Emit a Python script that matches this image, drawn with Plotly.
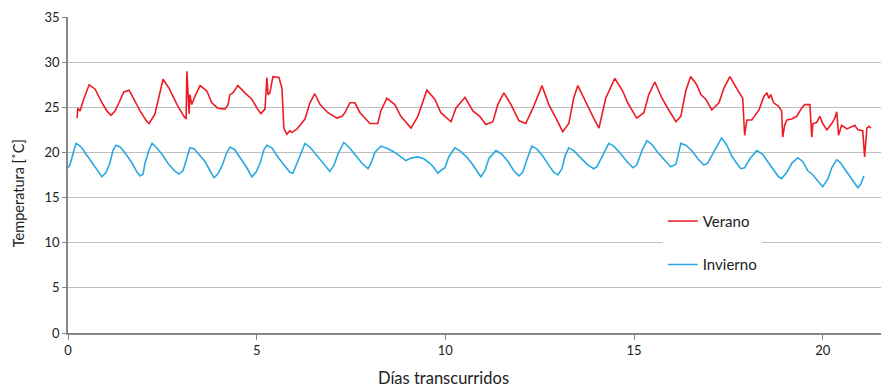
import plotly.graph_objects as go

# Días transcurridos / Temperatura [°C]
verano_dias = [0.24, 0.26, 0.32, 0.40, 0.56, 0.72, 0.90, 1.03, 1.14, 1.25, 1.35, 1.48, 1.62, 1.75, 1.91, 2.09, 2.15, 2.30, 2.41, 2.52,
               2.68, 2.89, 3.07, 3.13, 3.15, 3.21, 3.23, 3.28, 3.36, 3.50, 3.68, 3.81, 3.97, 4.16, 4.24, 4.29, 4.37, 4.50, 4.69, 4.87,
               5.01, 5.11, 5.22, 5.27, 5.30, 5.35, 5.43, 5.59, 5.67, 5.72, 5.80, 5.88, 5.93, 6.07, 6.15, 6.28, 6.41, 6.54, 6.68, 6.89,
               7.13, 7.26, 7.34, 7.47, 7.60, 7.74, 8.00, 8.21, 8.29, 8.45, 8.66, 8.82, 9.09, 9.27, 9.51, 9.72, 9.88, 10.15, 10.28, 10.52,
               10.73, 10.91, 11.07, 11.26, 11.39, 11.55, 11.74, 11.95, 12.13, 12.32, 12.56, 12.74, 12.93, 13.11, 13.27, 13.40, 13.51, 13.72, 13.93, 14.07,
               14.25, 14.49, 14.70, 14.83, 14.99, 15.07, 15.26, 15.39, 15.55, 15.74, 15.92, 16.11, 16.24, 16.37, 16.50, 16.66, 16.77, 16.90, 17.06, 17.25,
               17.38, 17.54, 17.72, 17.88, 17.93, 17.99, 18.12, 18.31, 18.44, 18.52, 18.57, 18.62, 18.70, 18.83, 18.91, 18.94, 18.99, 19.05, 19.18, 19.31,
               19.44, 19.52, 19.66, 19.71, 19.74, 19.84, 19.92, 20.00, 20.11, 20.24, 20.32, 20.37, 20.42, 20.50, 20.64, 20.77, 20.85, 20.93, 21.06, 21.11,
               21.17, 21.22, 21.28]
verano_temp = [23.8, 24.9, 24.6, 25.7, 27.5, 27.0, 25.5, 24.6, 24.1, 24.6, 25.5, 26.7, 26.9, 25.9, 24.6, 23.4, 23.2, 24.2, 26.0, 28.1,
               27.1, 25.3, 24.0, 23.7, 29.0, 24.3, 26.4, 25.3, 26.2, 27.4, 26.8, 25.5, 24.9, 24.8, 25.3, 26.4, 26.6, 27.4, 26.6, 25.9,
               24.9, 24.3, 24.8, 28.3, 26.4, 26.6, 28.4, 28.3, 27.1, 22.7, 22.0, 22.4, 22.2, 22.6, 23.0, 23.7, 25.5, 26.5, 25.3, 24.4,
               23.8, 24.0, 24.4, 25.5, 25.5, 24.4, 23.2, 23.2, 24.6, 26.0, 25.3, 24.0, 22.7, 24.0, 26.9, 25.9, 24.4, 23.4, 24.9, 26.1,
               24.6, 24.0, 23.1, 23.4, 25.3, 26.6, 25.3, 23.5, 23.2, 24.9, 27.4, 25.3, 23.8, 22.3, 23.2, 26.0, 27.4, 25.5, 23.8, 22.7,
               26.0, 28.2, 26.8, 25.5, 24.4, 23.8, 24.4, 26.4, 27.8, 26.0, 24.7, 23.4, 24.0, 26.8, 28.4, 27.5, 26.4, 25.9, 24.7, 25.5,
               27.1, 28.4, 27.1, 26.0, 21.9, 23.6, 23.6, 24.7, 26.2, 26.6, 26.0, 26.4, 25.5, 25.1, 24.6, 21.7, 23.0, 23.6, 23.7, 24.0,
               24.9, 25.3, 25.3, 21.7, 23.2, 23.3, 24.0, 23.2, 22.5, 23.2, 23.8, 24.5, 21.9, 23.0, 22.6, 22.8, 23.0, 22.5, 22.4, 19.5,
               22.7, 22.9, 22.7]

invierno_dias = [0.00, 0.05, 0.13, 0.21, 0.29, 0.37, 0.48, 0.64, 0.77, 0.90, 1.01, 1.11, 1.19, 1.27, 1.38, 1.54, 1.70, 1.83, 1.91, 1.99,
                 2.04, 2.15, 2.23, 2.33, 2.49, 2.65, 2.81, 2.94, 3.05, 3.13, 3.23, 3.34, 3.47, 3.63, 3.76, 3.87, 3.97, 4.08, 4.19, 4.29,
                 4.42, 4.58, 4.74, 4.87, 4.98, 5.09, 5.19, 5.27, 5.40, 5.56, 5.75, 5.88, 5.96, 6.04, 6.15, 6.28, 6.41, 6.57, 6.73, 6.86,
                 6.94, 7.05, 7.15, 7.31, 7.44, 7.60, 7.79, 7.95, 8.03, 8.13, 8.29, 8.48, 8.66, 8.82, 8.95, 9.11, 9.27, 9.43, 9.59, 9.70,
                 9.80, 9.88, 9.99, 10.09, 10.25, 10.38, 10.54, 10.70, 10.83, 10.94, 11.05, 11.15, 11.34, 11.50, 11.66, 11.81, 11.95, 12.05, 12.16, 12.29,
                 12.42, 12.58, 12.74, 12.87, 12.98, 13.09, 13.17, 13.27, 13.40, 13.56, 13.75, 13.93, 14.01, 14.15, 14.33, 14.46, 14.62, 14.81, 14.97, 15.07,
                 15.21, 15.34, 15.47, 15.63, 15.79, 15.97, 16.11, 16.19, 16.24, 16.37, 16.53, 16.69, 16.85, 16.95, 17.09, 17.22, 17.32, 17.46, 17.59, 17.72,
                 17.83, 17.93, 18.07, 18.25, 18.41, 18.54, 18.70, 18.83, 18.91, 19.05, 19.18, 19.34, 19.47, 19.60, 19.74, 19.87, 20.00, 20.13, 20.24, 20.37,
                 20.48, 20.61, 20.74, 20.85, 20.93, 21.01, 21.09]
invierno_temp = [18.3, 18.6, 19.8, 21.0, 20.8, 20.5, 19.8, 18.8, 18.0, 17.3, 17.8, 18.8, 20.2, 20.8, 20.6, 19.8, 18.8, 17.8, 17.4, 17.6,
                 18.8, 20.3, 21.0, 20.6, 19.8, 18.8, 18.0, 17.6, 18.0, 19.0, 20.5, 20.4, 19.8, 19.0, 18.0, 17.2, 17.6, 18.5, 19.8, 20.6,
                 20.3, 19.3, 18.3, 17.3, 17.8, 18.8, 20.3, 20.8, 20.5, 19.5, 18.5, 17.8, 17.7, 18.5, 19.8, 21.0, 20.6, 19.8, 18.9, 18.3,
                 17.9, 18.6, 19.8, 21.1, 20.6, 19.8, 18.8, 18.2, 18.8, 20.0, 20.7, 20.4, 20.0, 19.5, 19.1, 19.4, 19.5, 19.3, 18.8, 18.3,
                 17.7, 18.0, 18.3, 19.5, 20.5, 20.2, 19.6, 18.8, 18.0, 17.3, 18.0, 19.3, 20.2, 19.8, 19.0, 18.0, 17.4, 17.8, 19.2, 20.7,
                 20.4, 19.6, 18.6, 17.8, 17.5, 18.2, 19.6, 20.5, 20.2, 19.5, 18.7, 18.2, 18.4, 19.5, 21.0, 20.7, 20.0, 19.0, 18.3, 18.6,
                 20.2, 21.3, 20.9, 20.0, 19.2, 18.4, 18.7, 20.0, 21.0, 20.8, 20.2, 19.3, 18.6, 18.8, 19.8, 20.8, 21.6, 20.8, 19.6, 18.8,
                 18.2, 18.3, 19.3, 20.2, 19.8, 19.0, 18.0, 17.3, 17.1, 17.8, 18.8, 19.4, 19.0, 18.0, 17.5, 16.8, 16.2, 17.0, 18.3, 19.2,
                 18.8, 18.0, 17.2, 16.6, 16.1, 16.5, 17.4]

x_ticks = [0, 5, 10, 15, 20]
y_ticks = [0, 5, 10, 15, 20, 25, 30, 35]
x_title = "Días transcurridos"
y_title = "Temperatura [˚C]"

FONT = "Lato"
GRID = "#bfbfbf"
AXIS = "#868686"
TXT = "#222222"

fig = go.Figure()
fig.add_trace(go.Scatter(x=verano_dias, y=verano_temp, mode="lines", name="Verano",
                         legendgroup="v", line=dict(color="#ED1C24", width=1.6)))
fig.add_trace(go.Scatter(x=invierno_dias, y=invierno_temp, mode="lines", name="Invierno",
                         legendgroup="i", line=dict(color="#29A9E0", width=1.6)))

fig.update_layout(
    width=881, height=379,
    margin=dict(l=60, r=4, t=9, b=54),
    paper_bgcolor="white", plot_bgcolor="white",
    font=dict(family=FONT, size=13, color=TXT),
    showlegend=True,
    legend=dict(x=0.728, y=0.406, xanchor="left", yanchor="top", bgcolor="white",
                borderwidth=0, tracegroupgap=21, font=dict(size=15, family=FONT),
                itemwidth=30),
    xaxis=dict(range=[0, 21.65], tickvals=x_ticks, showgrid=False, zeroline=False,
               showline=True, linecolor=AXIS, linewidth=1.5, ticks="outside",
               ticklen=5, tickcolor=AXIS, tickfont=dict(size=13), automargin=False),
    yaxis=dict(range=[0, 35], tickvals=y_ticks, showgrid=True, gridcolor=GRID, gridwidth=1.3,
               zeroline=False, showline=True, linecolor=AXIS, linewidth=1.5,
               ticks="outside", ticklen=4, tickcolor=AXIS, tickfont=dict(size=13),
               automargin=False),
    annotations=[
        dict(text=x_title, xref="paper", yref="paper", x=0.459, y=-0.142,
             xanchor="center", yanchor="middle", showarrow=False,
             font=dict(size=16.5, family=FONT, color=TXT)),
        dict(text=y_title, xref="paper", yref="paper", x=-0.061, y=0.443,
             xanchor="center", yanchor="middle", showarrow=False, textangle=-90,
             font=dict(size=14.5, family=FONT, color=TXT)),
    ],
)

fig.write_html("out.html")
